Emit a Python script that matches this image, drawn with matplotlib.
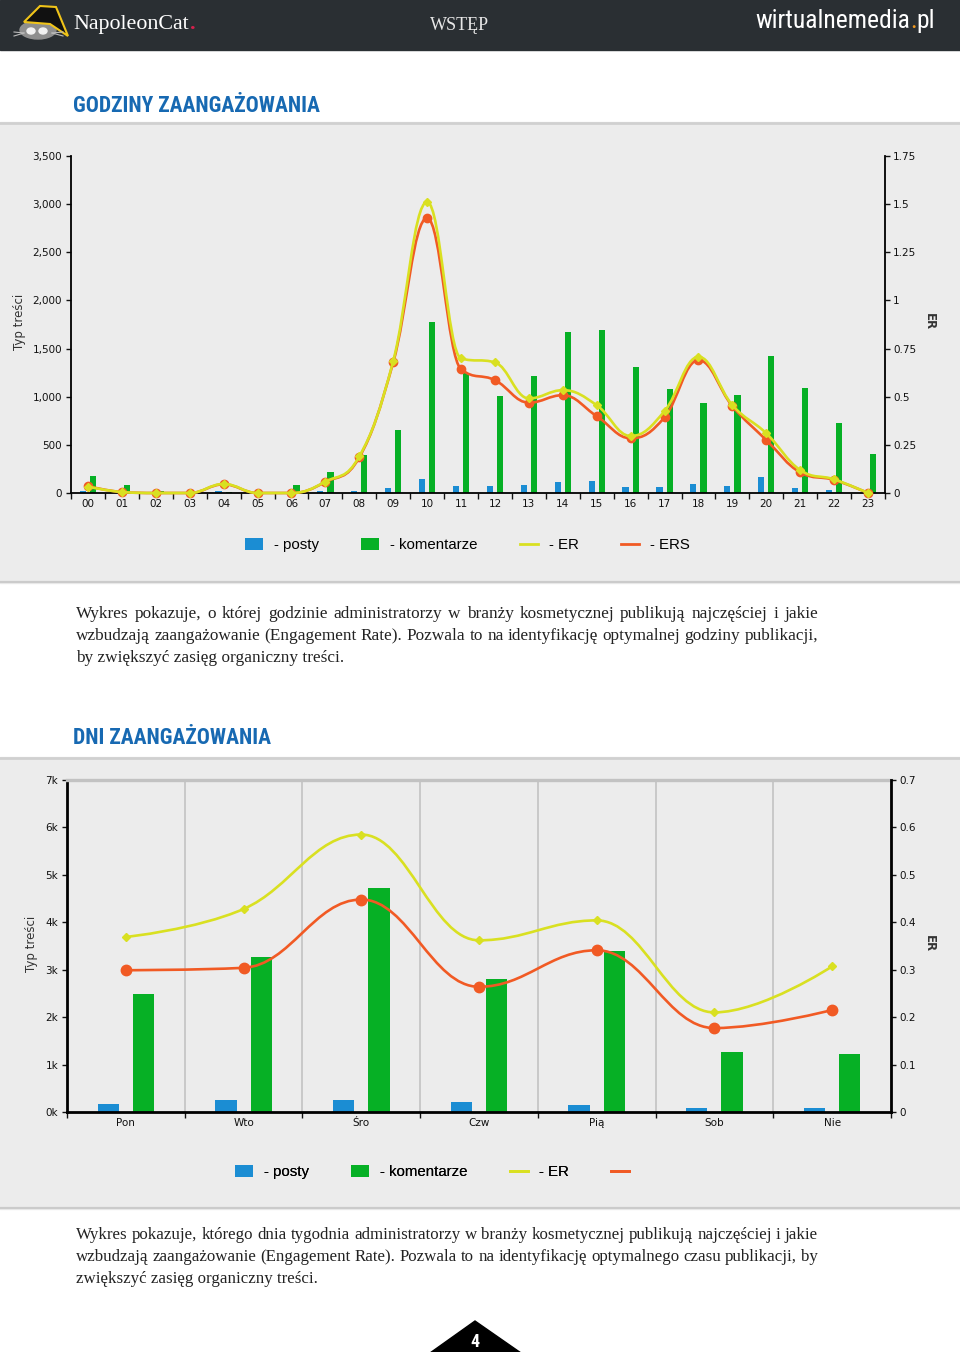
import numpy as np
import matplotlib
matplotlib.use("Agg")
import matplotlib.pyplot as plt
from matplotlib.path import Path
from matplotlib.patches import PathPatch, Rectangle, Polygon, Ellipse
from matplotlib.lines import Line2D
from matplotlib.ticker import FixedLocator, FuncFormatter, NullFormatter
from matplotlib import font_manager

# ---- data: hours ----
hours = [f"{h:02d}" for h in range(24)]
h_posty = [25, 10, 15, 15, 18, 10, 15, 20, 18, 48, 142, 73,
           73, 83, 111, 128, 62, 62, 93, 73, 170, 52, 30, 5]
h_komentarze = [180, 83, 20, 15, 15, 10, 80, 215, 395, 654, 1779, 1246,
                1007, 1215, 1675, 1696, 1308, 1083, 931, 1018, 1426, 1094, 727, 408]
h_er = [0.033, 0.005, 0, 0, 0.047, 0, 0, 0.059, 0.19, 0.685, 1.511, 0.699,
        0.678, 0.491, 0.534, 0.456, 0.296, 0.425, 0.707, 0.456, 0.31, 0.119, 0.071, 0]
h_ers = [0.035, 0.005, 0, 0, 0.045, 0, 0, 0.057, 0.185, 0.678, 1.428, 0.643,
         0.586, 0.469, 0.508, 0.399, 0.284, 0.393, 0.69, 0.451, 0.275, 0.107, 0.068, 0]
h_left_ticks = list(range(0, 3501, 500))
h_right_ticks = [0, 0.25, 0.5, 0.75, 1, 1.25, 1.5, 1.75]

# ---- data: days ----
days = ["Pon", "Wto", "Śro", "Czw", "Pią", "Sob", "Nie"]
d_posty = [177, 247, 247, 219, 156, 84, 84]
d_komentarze = [2480, 3270, 4720, 2800, 3397, 1266, 1232]
d_er = [0.369, 0.428, 0.585, 0.362, 0.404, 0.21, 0.307]
d_ers = [0.299, 0.304, 0.448, 0.264, 0.341, 0.177, 0.215]
d_left_ticks = list(range(0, 7001, 1000))
d_right_ticks = [0, 0.1, 0.2, 0.3, 0.4, 0.5, 0.6, 0.7]

txt1 = ["Wykres pokazuje, o której godzinie administratorzy w branży kosmetycznej publikują najczęściej i jakie",
        "wzbudzają zaangażowanie (Engagement Rate). Pozwala to na identyfikację optymalnej godziny publikacji,",
        "by zwiększyć zasięg organiczny treści."]
txt2 = ["Wykres pokazuje, którego dnia tygodnia administratorzy w branży kosmetycznej publikują najczęściej i jakie",
        "wzbudzają zaangażowanie (Engagement Rate). Pozwala to na identyfikację optymalnego czasu publikacji, by",
        "zwiększyć zasięg organiczny treści."]

BLUE, GREEN, YELLOW, ORANGE = "#1b8dd3", "#06b025", "#d9e021", "#f15a24"
PANEL, TITLEC, DARK = "#ececec", "#1769b2", "#2a2f33"

names = {f.name for f in font_manager.fontManager.ttflist}
COND = next((n for n in ["Roboto Condensed", "Liberation Sans Narrow", "Open Sans Condensed",
                         "DejaVu Sans"] if n in names), "DejaVu Sans")
SERIF = "Liberation Serif" if "Liberation Serif" in names else "DejaVu Serif"
SANS = "Liberation Sans" if "Liberation Sans" in names else "DejaVu Sans"

W, H = 960, 1352
fig = plt.figure(figsize=(W / 100, H / 100), dpi=100)
bg = fig.add_axes([0, 0, 1, 1])
bg.set_xlim(0, W); bg.set_ylim(H, 0); bg.axis("off")
R = fig.canvas.get_renderer()


def px_axes(l, t, r, b):
    return fig.add_axes([l / W, 1 - b / H, (r - l) / W, (b - t) / H])


def fit(t, width):
    for _ in range(2):
        w = t.get_window_extent(R).width
        t.set_fontsize(t.get_fontsize() * width / w)


def right_of(t):
    e = t.get_window_extent(R)
    return bg.transData.inverted().transform((e.x1, e.y0))[0]


def text_w(s, size):
    t = bg.text(0, 0, s, family=SERIF, fontsize=size)
    w = t.get_window_extent(R).width
    t.remove()
    return w


def justify(line, x0, y, width, size):
    # place the words of one line so that it fills the given width
    words = line.split(" ")
    ws = [text_w(w, size) for w in words]
    gap = (width - sum(ws)) / (len(ws) - 1)
    xx = x0
    for w, wd in zip(words, ws):
        bg.text(xx, y, w, color="#222222", family=SERIF, fontsize=size, va="baseline")
        xx += wd + gap


def spline(ax, xs, ys, color, lw, z, s=1.5):
    # highcharts-style spline through the points
    n = len(xs)
    lc, rc = [None] * n, [None] * n
    for i in range(1, n - 1):
        px, py, lx, ly, nx, ny = xs[i], ys[i], xs[i - 1], ys[i - 1], xs[i + 1], ys[i + 1]
        lcx, lcy = (s * px + lx) / (s + 1), (s * py + ly) / (s + 1)
        rcx, rcy = (s * px + nx) / (s + 1), (s * py + ny) / (s + 1)
        corr = (rcy - lcy) * (rcx - px) / (rcx - lcx) + py - rcy
        lcy += corr; rcy += corr
        if lcy > ly and lcy > py:
            lcy = max(ly, py); rcy = 2 * py - lcy
        elif lcy < ly and lcy < py:
            lcy = min(ly, py); rcy = 2 * py - lcy
        if rcy > ny and rcy > py:
            rcy = max(ny, py); lcy = 2 * py - rcy
        elif rcy < ny and rcy < py:
            rcy = min(ny, py); lcy = 2 * py - rcy
        lc[i], rc[i] = (lcx, lcy), (rcx, rcy)
    verts, codes = [(xs[0], ys[0])], [Path.MOVETO]
    for i in range(1, n):
        verts += [rc[i - 1] or (xs[i - 1], ys[i - 1]), lc[i] or (xs[i], ys[i]), (xs[i], ys[i])]
        codes += [Path.CURVE4] * 3
    ax.add_patch(PathPatch(Path(verts, codes), fill=False, edgecolor=color, lw=lw,
                           zorder=z, capstyle="round", joinstyle="round", clip_on=False))


# ---- page background ----
bg.add_patch(Rectangle((0, 0), W, 50, color=DARK, zorder=0))
for top, bot in [(122, 583), (757, 1209)]:
    bg.add_patch(Rectangle((0, top), W, bot - top, color=PANEL, zorder=0))
    bg.plot([0, W], [top + 1, top + 1], color="#d0d0d0", lw=2, zorder=1)
    bg.plot([0, W], [bot - 1, bot - 1], color="#cbcbcb", lw=1.6, zorder=1)

# logo
bg.add_patch(Ellipse((38, 30), 36, 18, color="#8e8e8e", zorder=2))
bg.add_patch(Polygon([(24, 22), (40, 6), (56, 7), (68, 36), (50, 24)], closed=True,
                     facecolor="#111111", edgecolor="#f0c419", lw=1.5, zorder=3))
for ex in (31, 43):
    bg.add_patch(Ellipse((ex, 31), 8, 6, color="#f2f2f2", zorder=4))
for dy in (-2, 2):
    bg.plot([14, 24], [34 + dy, 33], color="#bbbbbb", lw=0.8, zorder=4)
    bg.plot([52, 63], [33, 34 + dy], color="#bbbbbb", lw=0.8, zorder=4)

t = bg.text(73, 29, "NapoleonCat", color="white", family=SERIF, fontsize=16, va="baseline")
fit(t, 116)
bg.text(right_of(t) + 1, 29, ".", color="#d6204c", family=SERIF, fontsize=t.get_fontsize(),
        va="baseline", weight="bold")
t = bg.text(430, 30, "WSTĘP", color="#e8e8e8", family=SERIF, fontsize=11, va="baseline")
fit(t, 59)
t = bg.text(755, 28, "wirtualnemedia.pl", color="white", family=COND, fontsize=16,
            va="baseline", fontstretch="condensed")
fit(t, 180)
t.set_text("wirtualnemedia")
t2 = bg.text(right_of(t), 28, ".", color="#f39a1e", family=COND, fontsize=t.get_fontsize(),
             va="baseline", fontstretch="condensed")
bg.text(right_of(t2), 28, "pl", color="white", family=COND, fontsize=t.get_fontsize(),
        va="baseline", fontstretch="condensed")

# section titles
for y, s, w in [(112, "GODZINY ZAANGAŻOWANIA", 247), (743.5, "DNI ZAANGAŻOWANIA", 198)]:
    t = bg.text(73, y, s, color=TITLEC, family=COND, weight="bold", fontsize=20,
                va="baseline", fontstretch="condensed")
    fit(t, w)

# paragraphs (justified, last line flush left); size set by the widest line
for lines, y0 in [(txt1, 618), (txt2, 1239)]:
    widest = max(text_w(ln, 12) for ln in lines[:-1])
    size = 12 * 742 / widest
    for k, ln in enumerate(lines):
        if k < len(lines) - 1:
            justify(ln, 76, y0 + 22 * k, 742, size)
        else:
            bg.text(76, y0 + 22 * k, ln, color="#222222", family=SERIF, fontsize=size,
                    va="baseline")

# footer page marker
bg.add_patch(Polygon([(430, 1353), (475, 1321), (521, 1353)], closed=True, color="black", zorder=2))
t = bg.text(475, 1347, "4", color="white", family=COND, weight="bold", fontsize=13,
            ha="center", va="baseline", zorder=3)


def style_axes(ax, ax2, n, lticks, lfmt, rticks, sp_w, tick_len):
    ax.set_facecolor("none")
    ax.set_xlim(-0.5, n - 0.5)
    ax.spines["top"].set_visible(False)
    ax.spines["right"].set_visible(False)
    for s in ["left", "top", "bottom"]:
        ax2.spines[s].set_visible(False)
    ax.spines["left"].set_linewidth(sp_w)
    ax.spines["bottom"].set_linewidth(sp_w)
    ax2.spines["right"].set_linewidth(sp_w)
    ax.yaxis.set_major_locator(FixedLocator(lticks))
    ax.yaxis.set_major_formatter(FuncFormatter(lfmt))
    ax2.yaxis.set_major_locator(FixedLocator(rticks))
    ax2.yaxis.set_major_formatter(FuncFormatter(lambda v, p: f"{v:g}"))
    ax.tick_params(axis="y", direction="out", length=tick_len, width=1, pad=2.8,
                   labelsize=7.5, colors="#111111")
    ax2.tick_params(axis="y", direction="out", length=tick_len, width=1, pad=2.2,
                    labelsize=7.5, colors="#111111")
    ax.set_xticks(np.arange(n))
    ax.xaxis.set_minor_locator(FixedLocator(np.arange(n + 1) - 0.5))
    ax.xaxis.set_minor_formatter(NullFormatter())
    ax.tick_params(axis="x", which="major", length=0, pad=4, labelsize=7.5, colors="#111111")
    ax.tick_params(axis="x", which="minor", direction="out", length=4.3, width=1, color="#111111")


# ---- chart 1: hours ----
ax = px_axes(71, 156, 885, 493)
x = np.arange(len(hours))
b1 = ax.bar(x - 0.15, h_posty, 0.18, color=BLUE, zorder=2)
b2 = ax.bar(x + 0.15, h_komentarze, 0.18, color=GREEN, zorder=2)
ax.set_ylim(0, 3500)
ax.set_xticklabels(hours)
ax2 = ax.twinx()
ax2.set_ylim(0, 1.75)
style_axes(ax, ax2, len(hours), h_left_ticks, lambda v, p: f"{v:,.0f}", h_right_ticks, 1.3, 3.6)
spline(ax2, x, h_ers, ORANGE, 1.9, 3)
spline(ax2, x, h_er, YELLOW, 1.9, 5)
ax2.plot(x, h_ers, "o", ms=6, color=ORANGE, zorder=4, clip_on=False)
ax2.plot(x, h_er, "D", ms=4.3, color=YELLOW, zorder=6, clip_on=False)
bg.text(20, 322, "Typ treści", rotation=90, ha="center", va="center", fontsize=8.5, color="#333333")
bg.text(929, 322, "ER", rotation=270, ha="center", va="center", fontsize=8.5, color="#333333",
        weight="bold")

# ---- chart 2: days ----
bx = px_axes(67, 780, 891, 1112)
xd = np.arange(len(days))
c1 = bx.bar(xd - 0.15, d_posty, 0.18, color=BLUE, zorder=2)
c2 = bx.bar(xd + 0.15, d_komentarze, 0.18, color=GREEN, zorder=2)
bx.set_ylim(0, 7000)
bx.set_xticklabels(days)
bx2 = bx.twinx()
bx2.set_ylim(0, 0.7)
style_axes(bx, bx2, len(days), d_left_ticks, lambda v, p: f"{v / 1000:.0f}k", d_right_ticks, 2.0, 3.6)
bx.grid(which="minor", axis="x", color="#c6c6c6", lw=1.3, zorder=1)
bx.spines["top"].set_visible(True)
bx.spines["top"].set_color("#c2c2c2")
bx.spines["top"].set_linewidth(2.4)
spline(bx2, xd, d_ers, ORANGE, 1.9, 3)
spline(bx2, xd, d_er, YELLOW, 1.9, 5)
bx2.plot(xd, d_ers, "o", ms=7.5, color=ORANGE, zorder=4)
bx2.plot(xd, d_er, "D", ms=3.8, color=YELLOW, zorder=6)
bg.text(32, 944, "Typ treści", rotation=90, ha="center", va="center", fontsize=8.5, color="#333333")
bg.text(929, 944, "ER", rotation=270, ha="center", va="center", fontsize=8.5, color="#333333",
        weight="bold")

# ---- legends ----
def legend(handles, labels, x0, y0):
    leg = bg.legend(handles, labels, loc="center left", bbox_to_anchor=(x0, y0),
                    bbox_transform=bg.transData, ncol=len(handles), frameon=False,
                    prop={"family": SANS, "size": 10.8}, handlelength=1.2, handleheight=0.8,
                    handletextpad=0.75, columnspacing=2.8, borderpad=0, borderaxespad=0)
    bg.add_artist(leg)


ly = Line2D([], [], color=YELLOW, lw=2)
lo = Line2D([], [], color=ORANGE, lw=2)
legend([b1, b2, ly, lo], ["- posty", "- komentarze", "- ER", "- ERS"], 245, 545)
legend([c1, c2, ly, lo], ["- posty", "- komentarze", "- ER", ""], 235, 1172)

fig.savefig("out.png", dpi=100)
